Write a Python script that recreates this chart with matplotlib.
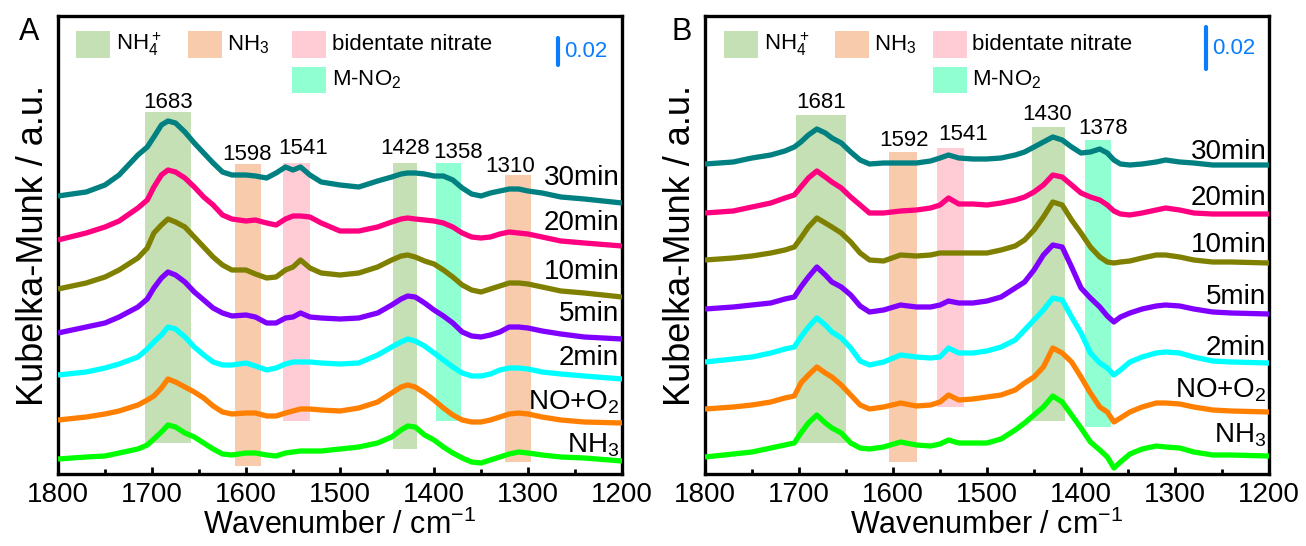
import numpy as np
import matplotlib
matplotlib.use("Agg")
import matplotlib.pyplot as plt
from matplotlib.patches import Rectangle
from matplotlib.ticker import MultipleLocator

plt.rcParams['font.family'] = ['Liberation Sans', 'DejaVu Sans']
plt.rcParams['mathtext.fontset'] = 'custom'
plt.rcParams['mathtext.rm'] = 'Liberation Sans'
plt.rcParams['mathtext.default'] = 'regular'

# ---------------- data ----------------
names = ['30min', '20min', '10min', '5min', '2min', 'NO+O$_2$', 'NH$_3$']
colors = ['#008080', '#FF0080', '#808000', '#8000FF', '#00FFFF', '#FF8000', '#00FF00']

# panel A (stacked intensities, a.u.)
wn_A = [1800, 1770, 1750, 1735, 1715, 1705, 1698, 1690, 1683, 1675, 1665, 1655, 1645, 1635, 1625,
        1615, 1600, 1590, 1578, 1568, 1558, 1550, 1542, 1532, 1520, 1500, 1480, 1460, 1445, 1435,
        1428, 1420, 1410, 1400, 1390, 1380, 1370, 1360, 1350, 1340, 1330, 1320, 1310, 1300, 1285,
        1265, 1240, 1200]
A_30 = [277, 281, 288, 298, 318, 326, 336, 348, 352, 350, 341, 330, 320, 310, 301, 298, 298, 297, 295, 300,
        306, 303, 306, 298, 291, 288, 286, 292, 296, 299, 300, 300, 299, 297, 297, 293, 285, 279, 277, 280,
        282, 284, 284, 282, 280, 276, 274, 270]
A_20 = [233, 240, 246, 252, 265, 273, 286, 298, 303, 301, 295, 286, 276, 268, 258, 254, 252, 253, 250, 248,
        254, 257, 257, 256, 250, 242, 242, 246, 251, 254, 255, 254, 253, 252, 250, 246, 240, 236, 235, 236,
        239, 241, 240, 239, 236, 232, 230, 227]
A_10 = [184, 190, 196, 203, 215, 225, 240, 248, 254, 251, 246, 236, 226, 216, 208, 203, 203, 199, 195, 196,
        203, 206, 213, 205, 200, 198, 200, 206, 213, 217, 218, 216, 212, 209, 203, 196, 188, 183, 181, 184,
        187, 190, 190, 189, 186, 182, 180, 176]
A_5 = [140, 146, 150, 156, 166, 174, 185, 195, 201, 198, 191, 181, 173, 165, 160, 157, 158, 156, 150, 150,
       155, 156, 160, 156, 155, 154, 155, 160, 168, 174, 177, 176, 170, 163, 157, 150, 141, 137, 136, 138,
       141, 146, 146, 145, 142, 139, 136, 134]
A_2 = [98, 101, 105, 109, 116, 124, 131, 138, 146, 144, 136, 126, 118, 111, 108, 108, 110, 107, 103, 105,
       109, 111, 111, 111, 110, 109, 110, 118, 126, 131, 134, 132, 127, 120, 113, 106, 100, 97, 97, 99,
       103, 105, 105, 104, 101, 99, 97, 94]
A_no = [53, 56, 59, 62, 68, 73, 77, 85, 94, 91, 86, 81, 75, 67, 61, 59, 60, 60, 57, 57,
        60, 62, 64, 64, 63, 62, 65, 71, 80, 86, 88, 86, 80, 73, 65, 58, 53, 51, 51, 53,
        56, 59, 60, 59, 56, 53, 51, 50]
A_nh3 = [14, 16, 17, 20, 24, 28, 34, 41, 48, 46, 40, 36, 30, 24, 19, 18, 20, 20, 18, 17,
         20, 21, 22, 22, 22, 24, 26, 30, 36, 43, 47, 46, 38, 33, 26, 20, 15, 11, 10, 13,
         16, 19, 21, 20, 18, 16, 15, 12]

# panel B
wn_B = [1800, 1770, 1750, 1730, 1715, 1705, 1698, 1690, 1681, 1672, 1665, 1655, 1645, 1635, 1625,
        1610, 1592, 1575, 1560, 1550, 1541, 1530, 1515, 1500, 1485, 1470, 1460, 1450, 1440, 1430,
        1420, 1410, 1400, 1390, 1380, 1372, 1365, 1358, 1348, 1335, 1320, 1310, 1295, 1280, 1260,
        1240, 1200]
B_30 = [309, 311, 315, 318, 322, 326, 331, 338, 344, 340, 335, 330, 321, 313, 309, 310, 310, 310, 312, 315,
        318, 315, 314, 314, 315, 318, 321, 326, 331, 336, 333, 326, 320, 321, 324, 320, 313, 309, 308, 309,
        311, 313, 311, 310, 308, 308, 308]
B_20 = [260, 262, 266, 270, 275, 278, 286, 295, 302, 296, 291, 285, 276, 268, 260, 260, 262, 263, 265, 268,
        275, 269, 269, 268, 270, 273, 276, 281, 288, 298, 296, 288, 280, 276, 273, 268, 262, 259, 258, 260,
        263, 265, 263, 260, 259, 259, 259]
B_10 = [213, 215, 217, 220, 223, 226, 235, 246, 255, 250, 246, 240, 231, 220, 213, 212, 218, 217, 218, 220,
        220, 220, 220, 220, 223, 227, 233, 243, 256, 271, 268, 253, 240, 226, 216, 211, 210, 211, 212, 215,
        218, 218, 216, 213, 211, 211, 210]
B_5 = [164, 166, 168, 170, 174, 176, 186, 196, 206, 198, 191, 186, 178, 167, 161, 163, 168, 166, 166, 168,
       172, 170, 170, 172, 176, 185, 191, 203, 218, 228, 226, 206, 185, 175, 166, 157, 151, 156, 160, 164,
       167, 168, 167, 164, 161, 160, 159]
B_2 = [111, 114, 116, 120, 124, 126, 136, 146, 155, 148, 141, 135, 125, 112, 108, 111, 118, 116, 115, 116,
       125, 120, 120, 122, 126, 133, 143, 153, 163, 175, 173, 156, 140, 120, 110, 105, 98, 103, 111, 116,
       120, 121, 120, 116, 112, 111, 110]
B_no = [64, 66, 68, 71, 75, 77, 90, 98, 106, 100, 96, 88, 78, 68, 64, 66, 70, 67, 68, 71,
        78, 73, 74, 76, 78, 83, 90, 96, 106, 125, 120, 111, 96, 80, 66, 61, 51, 55, 61, 66,
        70, 70, 69, 66, 63, 62, 61]
B_nh3 = [16, 19, 21, 25, 28, 30, 40, 50, 58, 50, 45, 40, 30, 25, 24, 26, 31, 28, 27, 29,
         33, 30, 30, 30, 34, 43, 50, 58, 66, 77, 71, 58, 45, 31, 23, 16, 5, 11, 19, 24,
         27, 26, 25, 21, 18, 18, 17]

# assignment bands: (high wn, low wn, bottom, top, kind)
kinds = {'nh4': '#C5E0B4', 'nh3': '#F8CBAD', 'bid': '#FFCCD5', 'mno2': '#90FFD2'}
bands_A = [(1707, 1658, 30, 361, 'nh4'), (1612, 1584, 7, 309, 'nh3'), (1561, 1532, 52, 310, 'bid'),
           (1444, 1418, 24, 310, 'nh4'), (1398, 1371, 52, 310, 'mno2'), (1324, 1297, 11, 298, 'nh3')]
bands_B = [(1703, 1650, 30, 358, 'nh4'), (1604, 1575, 11, 321, 'nh3'), (1553, 1525, 66, 325, 'bid'),
           (1452, 1417, 52, 346, 'nh4'), (1396, 1368, 46, 333, 'mno2')]

# peak positions written above the bands
peaks_A = ['1683', '1598', '1541', '1428', '1358', '1310']
peak_x_A = [1683, 1599, 1539, 1431, 1374, 1319]
peak_y_A = [371, 318, 324, 324, 321, 307]
peaks_B = ['1681', '1592', '1541', '1430', '1378']
peak_x_B = [1676, 1588, 1525, 1436, 1376]
peak_y_B = [371, 332, 338, 358, 345]

# curve name heights at right edge
name_y_A = [295, 250, 201, 159, 115, 71, 28]
name_y_B = [321, 275, 228, 176, 125, 83, 38]

legend_names = ['NH$_4^+$', 'NH$_3$', 'bidentate nitrate', 'M-NO$_2$']

# ---------------- plot ----------------
fig = plt.figure(figsize=(13.06, 5.46), dpi=100)
axA = fig.add_axes([58 / 1306, 1 - 474 / 546, 564 / 1306, 458 / 546])
axB = fig.add_axes([705 / 1306, 1 - 474 / 546, 564 / 1306, 458 / 546])


def draw_panel(ax, wn, curves, name_y, bands, peaks, peak_x, peak_y, col_x, bar, letter, letter_x):
    for hi, lo, b, t, k in bands:
        ax.add_patch(Rectangle((lo, b), hi - lo, t - b, color=kinds[k], lw=0, zorder=1))
    for y, c in zip(curves, colors):
        ax.plot(wn, y, color=c, lw=3.8, solid_capstyle='butt', solid_joinstyle='round', zorder=3)
    for n, yy in zip(names, name_y):
        ax.text(1203, yy, n, ha='right', va='center', fontsize=20, zorder=4)
    for p, px, py in zip(peaks, peak_x, peak_y):
        ax.text(px, py, p, ha='center', va='center', fontsize=16, zorder=4)

    ax.set_xlim(1800, 1200)
    ax.set_ylim(-1, 457)
    ax.set_yticks([])
    ax.xaxis.set_major_locator(MultipleLocator(100))
    ax.xaxis.set_minor_locator(MultipleLocator(50))
    ax.tick_params(axis='x', which='major', direction='in', length=5, width=2, labelsize=20, pad=6)
    ax.tick_params(axis='x', which='minor', direction='in', length=3.5, width=2)
    for s in ax.spines.values():
        s.set_linewidth(2.4)
    ax.set_xlabel('Wavenumber / cm$^{-1}$', fontsize=22, labelpad=1)
    ax.set_ylabel('Kubelka-Munk / a.u.', fontsize=26, labelpad=5)

    # legend boxes
    tr = ax.transAxes
    rows = [0.938, 0.860]
    slots = [(col_x[0], rows[0]), (col_x[1], rows[0]), (col_x[2], rows[0]), (col_x[2], rows[1])]
    for (sx, sy), n, k in zip(slots, legend_names, ['nh4', 'nh3', 'bid', 'mno2']):
        ax.add_patch(Rectangle((sx, sy - 0.029), 0.060, 0.058, transform=tr, color=kinds[k], lw=0))
        ax.text(sx + 0.07, sy, n, transform=tr, ha='left', va='center', fontsize=16)

    # 0.02 scale bar
    bx, b0, b1 = bar
    ax.plot([bx, bx], [b0, b1], color='#0A7CFF', lw=3, solid_capstyle='round', zorder=5)
    ax.text(bx - 6, (b0 + b1) / 2, '0.02', color='#0A7CFF', ha='left', va='center', fontsize=16)

    fig.text(letter_x, 0.942, letter, fontsize=22, ha='center', va='center')


draw_panel(axA, wn_A, [A_30, A_20, A_10, A_5, A_2, A_no, A_nh3], name_y_A, bands_A,
           peaks_A, peak_x_A, peak_y_A, [0.032, 0.230, 0.415], (1268, 408, 435), 'A', 29 / 1306)
draw_panel(axB, wn_B, [B_30, B_20, B_10, B_5, B_2, B_no, B_nh3], name_y_B, bands_B,
           peaks_B, peak_x_B, peak_y_B, [0.034, 0.230, 0.404], (1267, 404, 446), 'B', 682 / 1306)

fig.savefig('out.png', dpi=100)
